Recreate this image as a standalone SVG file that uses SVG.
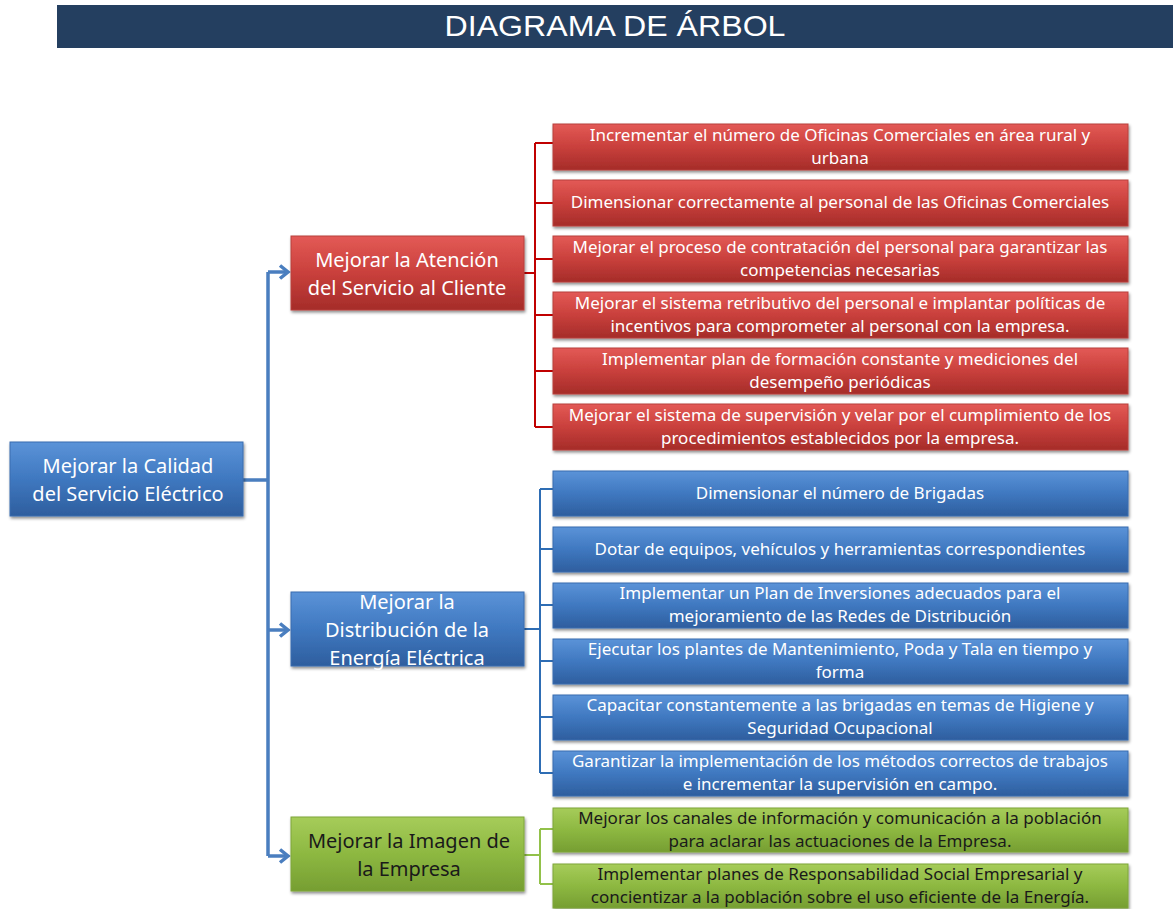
<svg xmlns="http://www.w3.org/2000/svg" width="1173" height="909" viewBox="0 0 1173 909">
<defs>
<linearGradient id="gRed" x1="0" y1="0" x2="0" y2="1"><stop offset="0" stop-color="#E35A56"/><stop offset="0.5" stop-color="#C9403C"/><stop offset="1" stop-color="#A52C29"/></linearGradient>
<linearGradient id="gBlue" x1="0" y1="0" x2="0" y2="1"><stop offset="0" stop-color="#5B93D8"/><stop offset="0.5" stop-color="#3F78C0"/><stop offset="1" stop-color="#2E5E9E"/></linearGradient>
<linearGradient id="gGreen" x1="0" y1="0" x2="0" y2="1"><stop offset="0" stop-color="#A6CC5A"/><stop offset="0.5" stop-color="#8DB841"/><stop offset="1" stop-color="#769E32"/></linearGradient>
<filter id="sh" x="-5%" y="-10%" width="110%" height="130%"><feDropShadow dx="1" dy="2" stdDeviation="1.5" flood-color="#000" flood-opacity="0.45"/></filter>
<marker id="arr" markerWidth="14" markerHeight="16" refX="10" refY="8" orient="auto" markerUnits="userSpaceOnUse"><path d="M2,1.5 L10,8 L2,14.5" fill="none" stroke="#4A7EBF" stroke-width="3.5"/></marker>
</defs>
<style>
.red{fill:url(#gRed);stroke:#B8403C;stroke-width:1;filter:url(#sh)}
.blue{fill:url(#gBlue);stroke:#3A6DAF;stroke-width:1;filter:url(#sh)}
.green{fill:url(#gGreen);stroke:#7FA63A;stroke-width:1;filter:url(#sh)}
.t{font-family:"Noto Sans",Lato,sans-serif;font-size:17px;fill:#fff;text-anchor:middle}
.tg{font-family:"Noto Sans",Lato,sans-serif;font-size:17px;fill:#1a1a1a;text-anchor:middle}
.tb{font-family:"Noto Sans",Lato,sans-serif;font-size:20px;fill:#fff;text-anchor:middle}
.tbg{font-family:"Noto Sans",Lato,sans-serif;font-size:20px;fill:#1a1a1a;text-anchor:middle}
.cb{fill:none;stroke:#4A7EBF;stroke-width:3.5}
.cr{fill:none;stroke:#C00000;stroke-width:2}
.cbl{fill:none;stroke:#2E6DB4;stroke-width:2}
.cg{fill:none;stroke:#92C14A;stroke-width:2}
</style>
<g id="title">
<rect x="57" y="5" width="1116" height="43" fill="#243F60"/>
<text x="615" y="36" font-family="Liberation Sans,Arial,sans-serif" font-size="30" fill="#fff" text-anchor="middle" textLength="341" lengthAdjust="spacingAndGlyphs">DIAGRAMA DE ÁRBOL</text>
</g>
<g id="connectors">
<path class="cb" d="M243,480 H268 M268,272 V856"/>
<path class="cb" d="M268,272 H288" marker-end="url(#arr)"/>
<path class="cb" d="M268,630 H288" marker-end="url(#arr)"/>
<path class="cb" d="M268,856 H288" marker-end="url(#arr)"/>
<path class="cr" d="M524,273 H535 M535,143 V427 M535,143 H553 M535,203 H553 M535,259 H553 M535,315 H553 M535,371 H553 M535,427 H553"/>
<path class="cbl" d="M524,629 H540 M540,489 V773 M540,489 H553 M540,549 H553 M540,605 H553 M540,661 H553 M540,717 H553 M540,773 H553"/>
<path class="cg" d="M524,855 H540 M540,829 V884 M540,829 H553 M540,884 H553"/>
</g>
<g id="root"><rect class="blue" x="10" y="442" width="233" height="74"/><text class="tb" x="128" y="473">Mejorar la Calidad</text><text class="tb" x="128" y="501">del Servicio Eléctrico</text></g>
<g id="n-atencion"><rect class="red" x="291" y="236" width="233" height="74"/><text class="tb" x="407" y="267">Mejorar la Atención</text><text class="tb" x="407" y="295">del Servicio al Cliente</text></g>
<g id="n-distribucion"><rect class="blue" x="291" y="592" width="233" height="74"/><text class="tb" x="407" y="609">Mejorar la</text><text class="tb" x="407" y="637">Distribución de la</text><text class="tb" x="407" y="665">Energía Eléctrica</text></g>
<g id="n-imagen"><rect class="green" x="291" y="817" width="233" height="74"/><text class="tbg" x="409" y="848">Mejorar la Imagen de</text><text class="tbg" x="409" y="876">la Empresa</text></g>
<g id="r1"><rect class="red" x="553" y="124" width="575" height="46"/><text class="t" x="840" y="141">Incrementar el número de Oficinas Comerciales en área rural y</text><text class="t" x="840" y="164">urbana</text></g>
<g id="r2"><rect class="red" x="553" y="180" width="575" height="46"/><text class="t" x="840" y="208">Dimensionar correctamente al personal de las Oficinas Comerciales</text></g>
<g id="r3"><rect class="red" x="553" y="236" width="575" height="46"/><text class="t" x="840" y="253">Mejorar el proceso de contratación del personal para garantizar las</text><text class="t" x="840" y="276">competencias necesarias</text></g>
<g id="r4"><rect class="red" x="553" y="292" width="575" height="46"/><text class="t" x="840" y="309">Mejorar el sistema retributivo del personal e implantar políticas de</text><text class="t" x="840" y="332">incentivos para comprometer al personal con la empresa.</text></g>
<g id="r5"><rect class="red" x="553" y="348" width="575" height="46"/><text class="t" x="840" y="365">Implementar plan de formación constante y mediciones del</text><text class="t" x="840" y="388">desempeño periódicas</text></g>
<g id="r6"><rect class="red" x="553" y="404" width="575" height="46"/><text class="t" x="840" y="421">Mejorar el sistema de supervisión y velar por el cumplimiento de los</text><text class="t" x="840" y="444">procedimientos establecidos por la empresa.</text></g>
<g id="b1"><rect class="blue" x="553" y="471" width="575" height="45"/><text class="t" x="840" y="499">Dimensionar el número de Brigadas</text></g>
<g id="b2"><rect class="blue" x="553" y="527" width="575" height="45"/><text class="t" x="840" y="555">Dotar de equipos,  vehículos y herramientas correspondientes</text></g>
<g id="b3"><rect class="blue" x="553" y="583" width="575" height="45"/><text class="t" x="840" y="599">Implementar un Plan de Inversiones adecuados para el</text><text class="t" x="840" y="622">mejoramiento de las Redes de Distribución</text></g>
<g id="b4"><rect class="blue" x="553" y="639" width="575" height="45"/><text class="t" x="840" y="655">Ejecutar los plantes de Mantenimiento, Poda y Tala en tiempo y</text><text class="t" x="840" y="678">forma</text></g>
<g id="b5"><rect class="blue" x="553" y="695" width="575" height="45"/><text class="t" x="840" y="711">Capacitar constantemente a las brigadas en temas de Higiene y</text><text class="t" x="840" y="734">Seguridad Ocupacional</text></g>
<g id="b6"><rect class="blue" x="553" y="751" width="575" height="45"/><text class="t" x="840" y="767">Garantizar la implementación de los métodos correctos de trabajos</text><text class="t" x="840" y="790">e incrementar la supervisión en campo.</text></g>
<g id="g1"><rect class="green" x="553" y="808" width="575" height="44"/><text class="tg" x="840" y="824">Mejorar los canales de información y comunicación a la población</text><text class="tg" x="840" y="847">para aclarar las actuaciones de la Empresa.</text></g>
<g id="g2"><rect class="green" x="553" y="864" width="575" height="44"/><text class="tg" x="840" y="880">Implementar planes de Responsabilidad Social Empresarial y</text><text class="tg" x="840" y="903">concientizar a la población sobre el uso eficiente de la Energía.</text></g>
</svg>
